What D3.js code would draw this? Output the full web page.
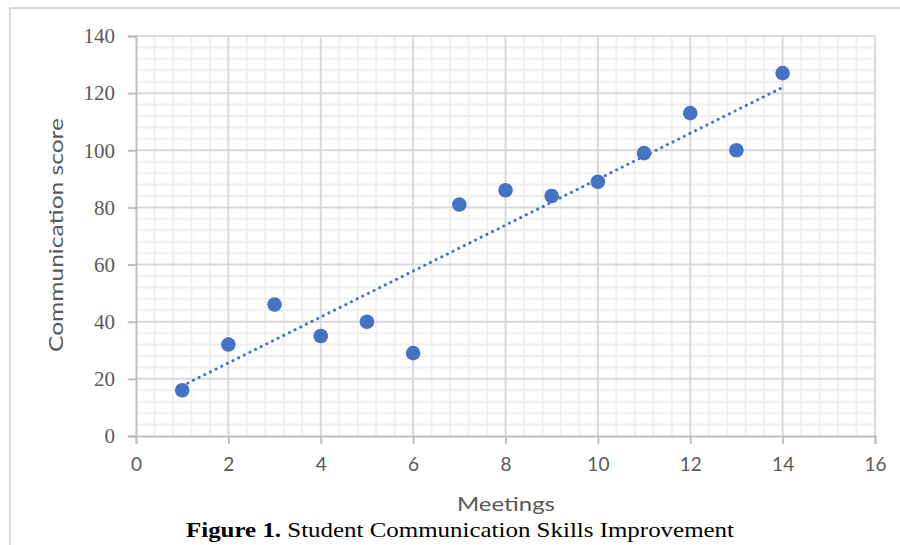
<!DOCTYPE html>
<html>
<head>
<meta charset="utf-8">
<script src="https://cdn.jsdelivr.net/npm/d3@7"></script>
<style>
  html, body { margin: 0; padding: 0; background: #fff; }
  svg { display: block; }
</style>
</head>
<body>
<svg id="chart" width="900" height="545"></svg>
<script>
// ---- Data ----
const meetings = [1, 2, 3, 4, 5, 6, 7, 8, 9, 10, 11, 12, 13, 14];
const scores   = [16, 32, 46, 35, 40, 29, 81, 86, 84, 89, 99, 113, 100, 127];
const xTicks = [0, 2, 4, 6, 8, 10, 12, 14, 16];
const yTicks = [0, 20, 40, 60, 80, 100, 120, 140];
const xTitle = "Meetings";
const yTitle = "Communication score";
const captionBold = "Figure 1.";
const captionText = " Student Communication Skills Improvement";

const svg = d3.select("#chart");
const x = d3.scaleLinear().domain([0, 16]).range([136, 875]);
const y = d3.scaleLinear().domain([0, 140]).range([436, 36]);

// outer frame
svg.append("rect").attr("x", 10).attr("y", 8).attr("width", 900).attr("height", 600)
  .attr("fill", "none").attr("stroke", "#d9d9d9").attr("stroke-width", 2);

const g = svg.append("g");

// minor gridlines
const xMinor = d3.range(0, 16.0001, 0.4).filter(v => Math.abs(v / 2 - Math.round(v / 2)) > 1e-6);
const yMinor = d3.range(0, 140.0001, 4).filter(v => v % 20 !== 0);
g.selectAll(".xminor").data(xMinor).join("line")
  .attr("x1", d => x(d)).attr("x2", d => x(d)).attr("y1", y(0)).attr("y2", y(140))
  .attr("stroke", "#f0f0f0").attr("stroke-width", 2);
g.selectAll(".yminor").data(yMinor).join("line")
  .attr("x1", x(0)).attr("x2", x(16)).attr("y1", d => y(d)).attr("y2", d => y(d))
  .attr("stroke", "#f0f0f0").attr("stroke-width", 2);

// major gridlines
g.selectAll(".xmajor").data(xTicks.filter(d => d > 0)).join("line")
  .attr("x1", d => x(d)).attr("x2", d => x(d)).attr("y1", y(0)).attr("y2", y(140))
  .attr("stroke", "#d9d9d9").attr("stroke-width", 2);
g.selectAll(".ymajor").data(yTicks.filter(d => d > 0)).join("line")
  .attr("x1", x(0)).attr("x2", x(16)).attr("y1", d => y(d)).attr("y2", d => y(d))
  .attr("stroke", "#d9d9d9").attr("stroke-width", 2);

// axes
const xAxis = svg.append("g").attr("transform", `translate(0,${y(0)})`)
  .call(d3.axisBottom(x).tickValues(xTicks).tickSize(8).tickPadding(14).tickFormat(d3.format("d")));
const yAxis = svg.append("g").attr("transform", `translate(${x(0)},0)`)
  .call(d3.axisLeft(y).tickValues(yTicks).tickSize(8).tickPadding(13).tickFormat(d3.format("d")));
[xAxis, yAxis].forEach(a => {
  a.select(".domain").attr("stroke", "#bfbfbf").attr("stroke-width", 2);
  a.selectAll(".tick line").attr("stroke", "#bfbfbf").attr("stroke-width", 2);
});
xAxis.selectAll(".tick text").attr("fill", "#595959").attr("font-family", "Lato, sans-serif").attr("font-size", 19);
yAxis.selectAll(".tick text").attr("fill", "#595959").attr("font-family", "'Liberation Serif', serif").attr("font-size", 21);

// trendline (least squares)
const mx = d3.mean(meetings), my = d3.mean(scores);
const sxy = d3.sum(meetings, (d, i) => (d - mx) * (scores[i] - my));
const sxx = d3.sum(meetings, d => (d - mx) * (d - mx));
const slope = sxy / sxx, intercept = my - slope * mx;
const x0 = d3.min(meetings), x1 = d3.max(meetings);
svg.append("line")
  .attr("x1", x(x0)).attr("y1", y(intercept + slope * x0))
  .attr("x2", x(x1)).attr("y2", y(intercept + slope * x1))
  .attr("stroke", "#4472c4").attr("stroke-width", 3)
  .attr("stroke-linecap", "round").attr("stroke-dasharray", "0.1 6.2");

// points
svg.selectAll(".pt").data(meetings).join("circle")
  .attr("cx", d => x(d)).attr("cy", (d, i) => y(scores[i])).attr("r", 7.3)
  .attr("fill", "#4472c4");

// axis titles
svg.append("text").attr("x", 506).attr("y", 511).attr("text-anchor", "middle")
  .attr("font-family", "Lato, sans-serif").attr("font-size", 19).attr("fill", "#595959")
  .attr("textLength", 98).attr("lengthAdjust", "spacingAndGlyphs").text(xTitle);
svg.append("text").attr("transform", "translate(63,235) rotate(-90)").attr("text-anchor", "middle")
  .attr("font-family", "Lato, sans-serif").attr("font-size", 19).attr("fill", "#595959")
  .attr("textLength", 234).attr("lengthAdjust", "spacingAndGlyphs").text(yTitle);

// caption
const cap = svg.append("text").attr("x", 186).attr("y", 537)
  .attr("font-family", "'Liberation Serif', 'Times New Roman', serif").attr("font-size", 21).attr("fill", "#000")
  .attr("textLength", 548).attr("lengthAdjust", "spacingAndGlyphs");
cap.append("tspan").attr("font-weight", "bold").text(captionBold);
cap.append("tspan").text(captionText);
</script>
</body>
</html>
